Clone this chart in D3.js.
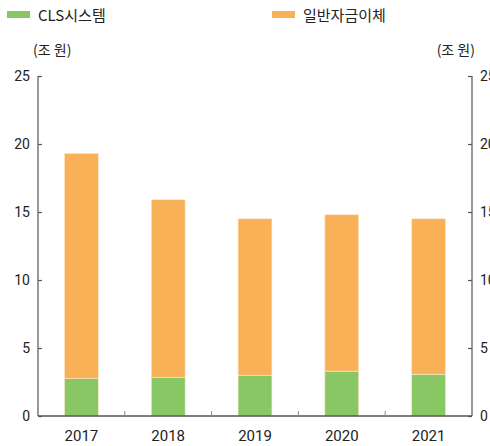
<!DOCTYPE html>
<html>
<head>
<meta charset="utf-8">
<script src="https://cdn.jsdelivr.net/npm/d3@7"></script>
<style>
  body { margin: 0; background: #fff; }
  svg { display: block; }
  .num { font-family: "Liberation Sans Narrow", "Roboto", sans-serif; }
  .kr { font-family: "Noto Sans CJK KR", sans-serif; }
</style>
</head>
<body>
<svg width="490" height="446"></svg>
<script>
// data (조 원)
var years = ['2017', '2018', '2019', '2020', '2021'];
var clsValues = [2.75, 2.85, 3.0, 3.3, 3.07];
var generalValues = [16.55, 13.05, 11.5, 11.5, 11.43];
var yTicks = [0, 5, 10, 15, 20, 25];
var seriesNames = ['CLS시스템', '일반자금이체'];
var colors = ['#88c764', '#f9b158'];

var svg = d3.select('svg');
var plotLeft = 38, plotRight = 472, plotTop = 76, plotBottom = 416;
var axisColor = '#555';

var x = d3.scaleBand().domain(years).range([plotLeft, plotRight]).paddingInner(0.61).paddingOuter(0.305);
var band = d3.scaleBand().domain(years).range([plotLeft, plotRight]);
var y = d3.scaleLinear().domain([0, 25]).range([plotBottom, plotTop]);

// stacked data
var rows = years.map(function(yr, i) {
  return { year: yr, cls: clsValues[i], general: generalValues[i] };
});
var stack = d3.stack().keys(['cls', 'general'])(rows);

svg.selectAll('.layer')
  .data(stack)
  .enter()
  .append('g')
  .attr('class', 'layer')
  .style('fill', function(d, i) { return colors[i]; })
  .selectAll('rect')
  .data(function(d) { return d; })
  .enter()
  .append('rect')
  .attr('x', function(d) { return x(d.data.year); })
  .attr('width', x.bandwidth())
  .attr('y', function(d) { return y(d[1]); })
  .attr('height', function(d) { return y(d[0]) - y(d[1]); })
  .style('stroke', '#fde8cf')
  .style('stroke-width', 0.6);

// left and right axes, ticks pointing inward
var yLeft = svg.append('g')
  .attr('transform', 'translate(' + plotLeft + ',0)')
  .call(d3.axisRight(y).tickValues(yTicks).tickSize(4).tickFormat(''));
var yRight = svg.append('g')
  .attr('transform', 'translate(' + plotRight + ',0)')
  .call(d3.axisLeft(y).tickValues(yTicks).tickSize(4).tickFormat(''));
[yLeft, yRight].forEach(function(g) {
  g.select('.domain').attr('d', 'M0,' + plotTop + 'V' + plotBottom).style('stroke', axisColor).style('stroke-width', 1.2);
  g.selectAll('.tick line').style('stroke', axisColor).style('stroke-width', 1.2);
});

svg.selectAll('.ylab-l')
  .data(yTicks)
  .enter()
  .append('text')
  .attr('class', 'num')
  .attr('x', plotLeft - 8)
  .attr('y', function(d) { return y(d); })
  .attr('dy', '0.35em')
  .attr('text-anchor', 'end')
  .style('font-size', '14px')
  .style('fill', '#222')
  .text(function(d) { return d; });

svg.selectAll('.ylab-r')
  .data(yTicks)
  .enter()
  .append('text')
  .attr('class', 'num')
  .attr('x', plotRight + 8)
  .attr('y', function(d) { return y(d); })
  .attr('dy', '0.35em')
  .attr('text-anchor', 'start')
  .style('font-size', '14px')
  .style('fill', '#222')
  .text(function(d) { return d; });

// bottom axis
var xAxis = svg.append('g')
  .attr('transform', 'translate(0,' + plotBottom + ')');
xAxis.append('line')
  .attr('x1', plotLeft).attr('x2', plotRight)
  .style('stroke', axisColor).style('stroke-width', 1.4);
xAxis.selectAll('.sep')
  .data(years.slice(1))
  .enter()
  .append('line')
  .attr('x1', function(d) { return band(d); })
  .attr('x2', function(d) { return band(d); })
  .attr('y1', 0).attr('y2', -5)
  .style('stroke', '#888').style('stroke-width', 1);
xAxis.selectAll('.xlab')
  .data(years)
  .enter()
  .append('text')
  .attr('class', 'num')
  .attr('x', function(d) { return x(d) + x.bandwidth() / 2; })
  .attr('y', 25)
  .attr('text-anchor', 'middle')
  .style('font-size', '15px')
  .style('fill', '#222')
  .text(function(d) { return d; });

// unit labels
svg.append('text').attr('class', 'kr')
  .attr('x', 33).attr('y', 55)
  .style('font-size', '14px').style('fill', '#222')
  .text('(조 원)');
svg.append('text').attr('class', 'kr')
  .attr('x', 475).attr('y', 55)
  .attr('text-anchor', 'end')
  .style('font-size', '14px').style('fill', '#222')
  .text('(조 원)');

// legend
var legendX = [7, 272];
seriesNames.forEach(function(name, i) {
  svg.append('rect')
    .attr('x', legendX[i]).attr('y', 11)
    .attr('width', 23).attr('height', 7)
    .style('fill', colors[i]);
  svg.append('text').attr('class', 'kr')
    .attr('x', legendX[i] + 31).attr('y', 21)
    .style('font-size', '15px').style('fill', '#222')
    .text(name);
});
</script>
</body>
</html>
